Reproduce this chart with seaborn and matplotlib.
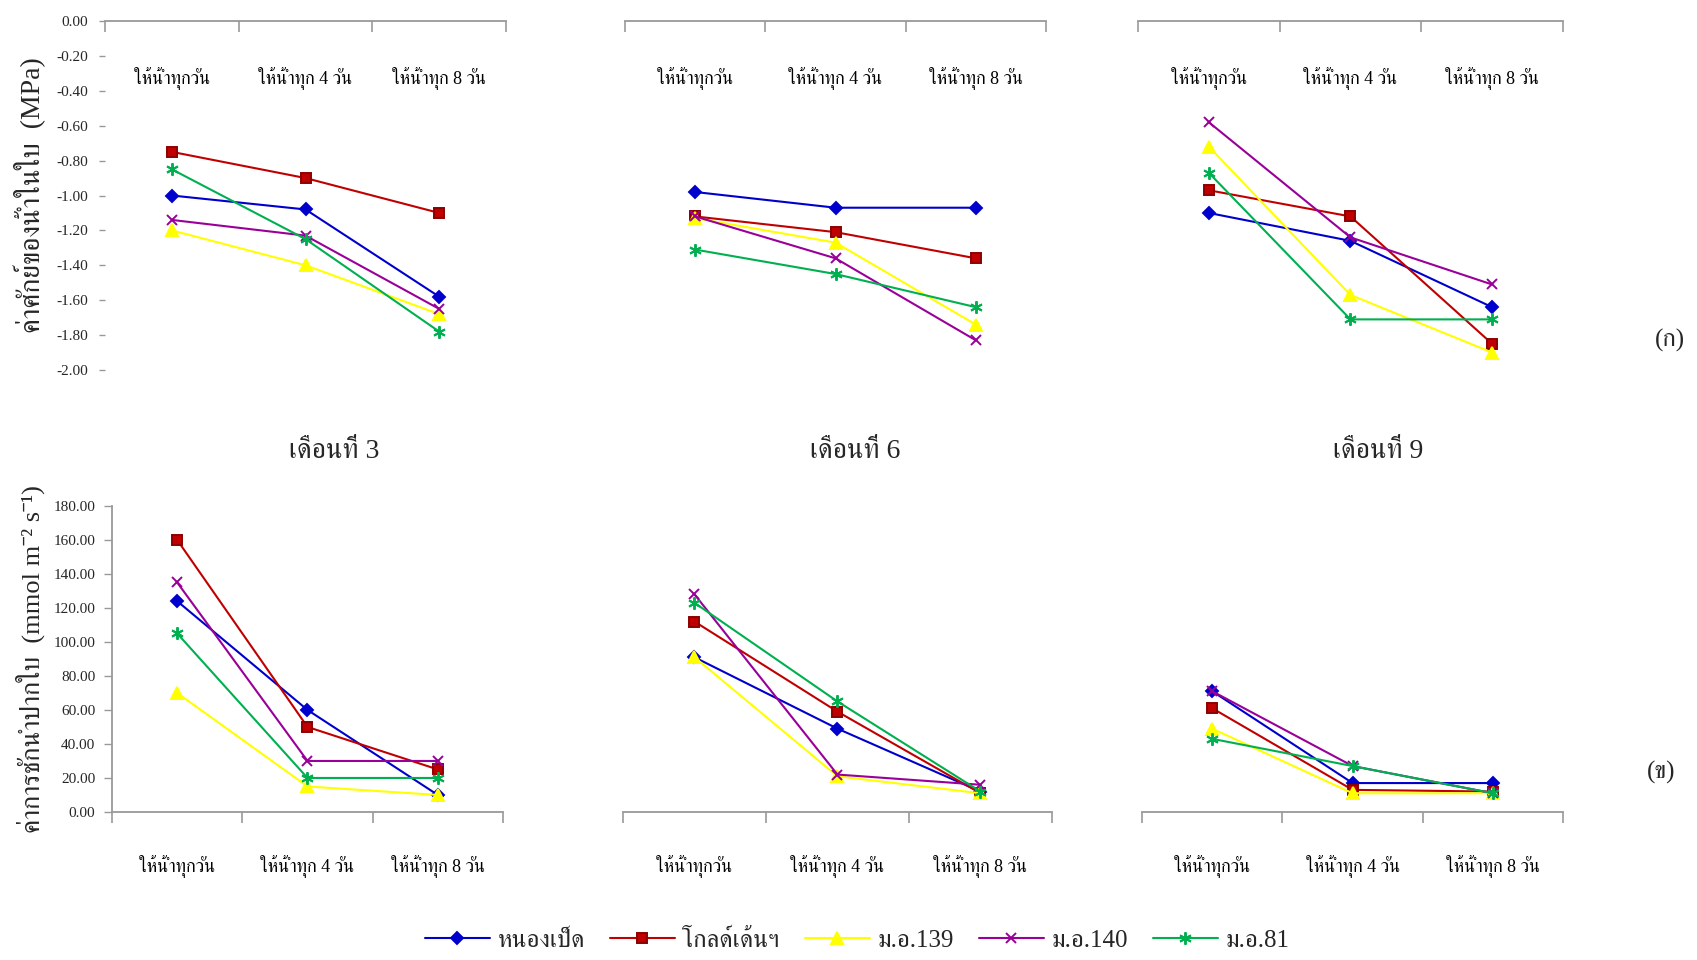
import matplotlib
matplotlib.use("Agg")
import numpy as np
import pandas as pd
import seaborn as sns
import matplotlib.pyplot as plt
from matplotlib import font_manager as fm
from matplotlib.ticker import FormatStrFormatter, FixedLocator, NullLocator

# ---------------- data ----------------
treatments = ["ให้น้ำทุกวัน", "ให้น้ำทุก 4 วัน", "ให้น้ำทุก 8 วัน"]
varieties = ["หนองเป็ด", "โกลด์เด้นฯ", "ม.อ.139", "ม.อ.140", "ม.อ.81"]
months = ["เดือนที่ 3", "เดือนที่ 6", "เดือนที่ 9"]

# leaf water potential (MPa), rows in variety order
wp_month3 = [[-1.00, -1.08, -1.58], [-0.75, -0.90, -1.10], [-1.20, -1.40, -1.68],
             [-1.14, -1.23, -1.65], [-0.85, -1.25, -1.78]]
wp_month6 = [[-0.98, -1.07, -1.07], [-1.12, -1.21, -1.36], [-1.13, -1.27, -1.74],
             [-1.12, -1.36, -1.83], [-1.31, -1.45, -1.64]]
wp_month9 = [[-1.10, -1.26, -1.64], [-0.97, -1.12, -1.85], [-0.72, -1.57, -1.90],
             [-0.58, -1.24, -1.51], [-0.87, -1.71, -1.71]]

# stomatal conductance (mmol m-2 s-1)
gs_month3 = [[124, 60, 10], [160, 50, 25], [70, 15, 10], [135, 30, 30], [105, 20, 20]]
gs_month6 = [[91, 49, 12], [112, 59, 11], [91, 21, 11], [128, 22, 16], [123, 65, 12]]
gs_month9 = [[71, 17, 17], [61, 13, 12], [49, 11, 11], [71, 27, 11], [43, 27, 11]]

wp_ticks = [0.0, -0.2, -0.4, -0.6, -0.8, -1.0, -1.2, -1.4, -1.6, -1.8, -2.0]
gs_ticks = [0, 20, 40, 60, 80, 100, 120, 140, 160, 180]

colors = ["#0000CC", "#C00000", "#FFFF00", "#990099", "#00B050"]
marker_list = ["D", "s", "^", "x", (6, 2, 0)]
marker_sizes = [6.5, 7.5, 8, 7.5, 9]

# ---------------- fonts ----------------
def find_thai_fonts():
    found = []
    try:
        from fontTools.ttLib import TTFont
    except Exception:
        return found
    for f in fm.fontManager.ttflist:
        try:
            tt = TTFont(f.fname, fontNumber=0, lazy=True)
            cmap = tt.getBestCmap()
            if cmap and 0x0E01 in cmap and 0x0E48 in cmap and 0x0E33 in cmap:
                if f.name not in found:
                    found.append(f.name)
        except Exception:
            pass
    return found

sns.set_theme(style="white")
thai = find_thai_fonts()
serif_pref = [n for n in thai if "Serif" in n or "Norasi" in n or "Kinnari" in n]
thai_order = serif_pref + [n for n in thai if n not in serif_pref]
font_list = ["Liberation Serif"] + thai_order + ["DejaVu Sans"]
plt.rcParams["font.family"] = font_list


def long_df(rows):
    recs = []
    for v, vals in zip(varieties, rows):
        for t, y in zip(treatments, vals):
            recs.append({"variety": v, "treatment": t, "value": y})
    return pd.DataFrame(recs)


fig = plt.figure(figsize=(16.97, 9.6), dpi=100)

top_pos = [(0.0619, 0.6146, 0.2363, 0.3635),
           (0.3683, 0.6146, 0.2481, 0.3635),
           (0.6706, 0.6146, 0.2504, 0.3635)]
bot_pos = [(0.0660, 0.1542, 0.2304, 0.3188),
           (0.3671, 0.1542, 0.2528, 0.3188),
           (0.6730, 0.1542, 0.2481, 0.3188)]

spine_col = "#999999"
handles = labels = None


def draw(ax, rows):
    df = long_df(rows)
    for v, c, m, ms in zip(varieties, colors, marker_list, marker_sizes):
        sub = df[df["variety"] == v]
        edge = "#8B0000" if v == varieties[1] else c
        sns.lineplot(data=sub, x="treatment", y="value", color=c, marker=m,
                     markersize=ms, linewidth=1.5, markeredgewidth=1.4,
                     markeredgecolor=edge, ax=ax, label=v, sort=False)
    ax.set_xlim(-0.5, 2.5)
    ax.set_xlabel("")
    ax.set_ylabel("")
    ax.xaxis.set_minor_locator(FixedLocator([-0.5, 0.5, 1.5, 2.5]))
    ax.set_facecolor("white")
    for s in ax.spines.values():
        s.set_visible(False)
    h, l = ax.get_legend_handles_labels()
    if ax.get_legend() is not None:
        ax.get_legend().remove()
    return h, l


# top row: leaf water potential
for i, (pos, rows) in enumerate(zip(top_pos, [wp_month3, wp_month6, wp_month9])):
    ax = fig.add_axes(pos)
    h, l = draw(ax, rows)
    if i == 0:
        handles, labels = h, l
    ax.set_ylim(-2.0, 0.0)
    ax.spines["top"].set_visible(True)
    ax.spines["top"].set_color(spine_col)
    ax.spines["top"].set_linewidth(1.3)
    ax.xaxis.set_ticks_position("top")
    ax.set_xticks([0, 1, 2])
    ax.set_xticklabels(treatments)
    ax.tick_params(axis="x", which="major", length=0, pad=-50, labelsize=13,
                   labeltop=True, labelbottom=False, colors="black")
    ax.tick_params(axis="x", which="minor", direction="in", length=8, width=1.2,
                   color=spine_col, top=True, bottom=False)
    if i == 0:
        ax.set_yticks(wp_ticks)
        ax.yaxis.set_major_formatter(FormatStrFormatter("%.2f"))
        ax.tick_params(axis="y", length=4, width=1, color=spine_col, left=True,
                       labelsize=11, pad=8)
        ax.set_ylabel("ค่าศักย์ของน้ำในใบ  (MPa)", fontsize=20, labelpad=8)
    else:
        ax.yaxis.set_major_locator(NullLocator())

# bottom row: stomatal conductance
for i, (pos, rows) in enumerate(zip(bot_pos, [gs_month3, gs_month6, gs_month9])):
    ax = fig.add_axes(pos)
    draw(ax, rows)
    ax.set_ylim(0, 180)
    ax.spines["bottom"].set_visible(True)
    ax.spines["bottom"].set_color(spine_col)
    ax.spines["bottom"].set_linewidth(1.3)
    ax.set_xticks([0, 1, 2])
    ax.set_xticklabels(treatments)
    ax.tick_params(axis="x", which="major", length=0, pad=31, labelsize=13,
                   colors="black", bottom=True)
    ax.tick_params(axis="x", which="minor", direction="out", length=8, width=1.2,
                   color=spine_col, bottom=True)
    if i == 0:
        ax.spines["left"].set_visible(True)
        ax.spines["left"].set_color(spine_col)
        ax.spines["left"].set_linewidth(1.3)
        ax.set_yticks(gs_ticks)
        ax.yaxis.set_major_formatter(FormatStrFormatter("%.2f"))
        ax.tick_params(axis="y", length=6, width=1, color=spine_col, left=True,
                       direction="out", labelsize=11, pad=6)
        ax.set_ylabel("ค่าการชักนำปากใบ  (mmol m\u207b\u00b2 s\u207b\u00b9)",
                      fontsize=19, labelpad=6)
    else:
        ax.yaxis.set_major_locator(NullLocator())

# month titles and panel letters
for x, m in zip([0.197, 0.504, 0.812], months):
    fig.text(x, 0.530, m, ha="center", va="center", fontsize=20)
fig.text(0.984, 0.645, "(ก)", ha="center", va="center", fontsize=18)
fig.text(0.979, 0.195, "(ข)", ha="center", va="center", fontsize=18)

fig.legend(handles, labels, loc="center", bbox_to_anchor=(0.505, 0.02), ncol=5,
           frameon=False, fontsize=18, handlelength=2.6, handletextpad=0.3,
           columnspacing=1.0)

fig.savefig("out.png", dpi=100, facecolor="white")
